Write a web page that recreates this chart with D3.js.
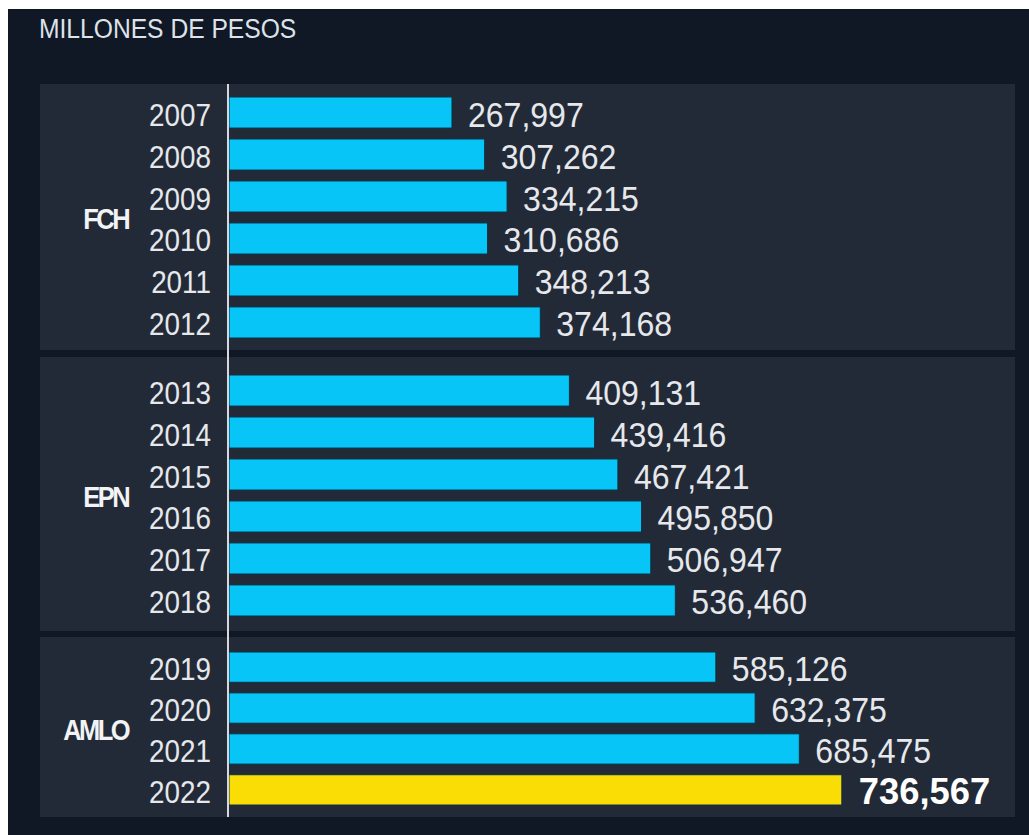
<!DOCTYPE html>
<meta charset="utf-8">
<style>
body { margin: 0; background: #fff; }
text { font-family: "Liberation Sans", Arial, sans-serif; }
</style>
<svg width="1029" height="835"></svg>
<script src="https://d3js.org/d3.v7.min.js"></script>
<script>

// data
var groups = ["FCH", "EPN", "AMLO"];
var fchYears = ["2007", "2008", "2009", "2010", "2011", "2012"];
var fchValues = [267997, 307262, 334215, 310686, 348213, 374168];
var epnYears = ["2013", "2014", "2015", "2016", "2017", "2018"];
var epnValues = [409131, 439416, 467421, 495850, 506947, 536460];
var amloYears = ["2019", "2020", "2021", "2022"];
var amloValues = [585126, 632375, 685475, 736567];
var highlightYear = "2022";
var title = "MILLONES DE PESOS";

var series = [
  {name: groups[0], years: fchYears, values: fchValues},
  {name: groups[1], years: epnYears, values: epnValues},
  {name: groups[2], years: amloYears, values: amloValues}
];

// layout
var panelTop = [84, 357, 637],
    panelBottom = [350, 631, 817],
    padTop = [13, 18, 15],
    padBottom = [12, 15, 12];

var svg = d3.select("svg");
var fmt = d3.format(",");

// squeeze text horizontally, the source uses a narrow face
function place(sel, fx, fy, fs) {
  sel.attr("transform", function(d) {
    return "translate(" + fx(d) + "," + fy(d) + ") scale(" + fs(d) + ",1)";
  });
}

var x = d3.scaleLinear()
    .domain([0, 800000])
    .range([229, 229 + 665.6]);

svg.append("rect")
    .attr("x", 8).attr("y", 9)
    .attr("width", 1021).attr("height", 826)
    .attr("fill", "#101826");

svg.append("text")
    .attr("transform", "translate(39,38) scale(0.88,1)")
    .attr("fill", "#dfe3e9")
    .attr("font-size", 28)
    .text(title);

series.forEach(function(s, i) {
  var g = svg.append("g");

  g.append("rect")
      .attr("x", 40).attr("y", panelTop[i])
      .attr("width", 975).attr("height", panelBottom[i] - panelTop[i])
      .attr("fill", "#222a37");

  var y = d3.scaleBand()
      .domain(s.years)
      .range([panelTop[i] + padTop[i], panelBottom[i] - padBottom[i]])
      .paddingInner(0.26)
      .paddingOuter(0);

  var rows = s.years.map(function(yr, j) { return {year: yr, value: s.values[j]}; });

  g.selectAll(".bar")
    .data(rows)
    .enter().append("rect")
      .attr("class", "bar")
      .attr("x", x(0))
      .attr("y", function(d) { return y(d.year); })
      .attr("width", function(d) { return x(d.value) - x(0); })
      .attr("height", y.bandwidth())
      .attr("fill", function(d) { return d.year === highlightYear ? "#fadd05" : "#07c6f7"; })
      .attr("stroke", "#0a3346")
      .attr("stroke-width", 1);

  g.selectAll(".year")
    .data(rows)
    .enter().append("text")
      .attr("class", "year")
      .attr("text-anchor", "end")
      .attr("fill", "#e6e8ec")
      .attr("font-size", 32)
      .text(function(d) { return d.year; })
      .call(place, function() { return 211; },
            function(d) { return y(d.year) + y.bandwidth() / 2 + 13; },
            function() { return 0.87; });

  g.selectAll(".val")
    .data(rows)
    .enter().append("text")
      .attr("class", "val")
      .attr("fill", function(d) { return d.year === highlightYear ? "#ffffff" : "#e6e8ec"; })
      .attr("font-size", 36)
      .attr("font-weight", function(d) { return d.year === highlightYear ? "bold" : "normal"; })
      .text(function(d) { return fmt(d.value); })
      .call(place, function(d) { return x(d.value) + (d.year === highlightYear ? 17 : 16); },
            function(d) { return y(d.year) + y.bandwidth() / 2 + 14; },
            function(d) { return d.year === highlightYear ? 1.01 : 0.89; });

  var mid = d3.mean(rows, function(d) { return y(d.year) + y.bandwidth() / 2; });
  g.append("text")
      .attr("transform", "translate(128," + (mid + 11) + ") scale(0.85,1)")
      .attr("text-anchor", "end")
      .attr("fill", "#f2f3f5")
      .attr("font-size", 30)
      .attr("font-weight", "bold")
      .attr("letter-spacing", -3)
      .text(s.name);
});

svg.append("line")
    .attr("x1", 228).attr("x2", 228)
    .attr("y1", 84).attr("y2", 817)
    .attr("stroke", "#d5d9df")
    .attr("stroke-width", 2);

</script>
